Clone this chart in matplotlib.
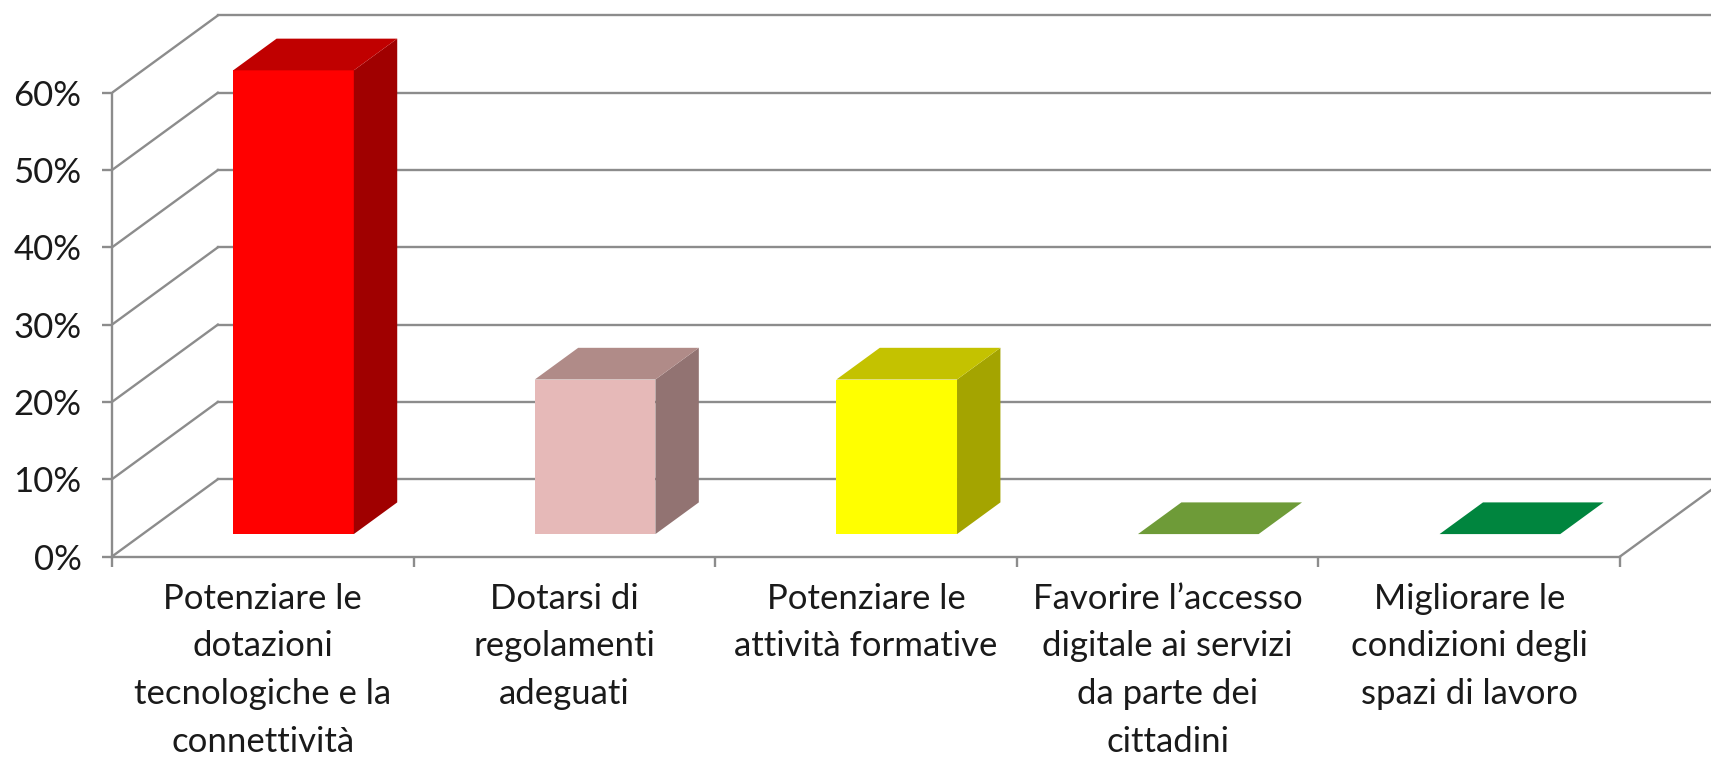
import numpy as np
import matplotlib.pyplot as plt
from matplotlib.patches import Polygon

categories = ["Potenziare le\ndotazioni\ntecnologiche e la\nconnettività",
              "Dotarsi di\nregolamenti\nadeguati",
              "Potenziare le\nattività formative",
              "Favorire l’accesso\ndigitale ai servizi\nda parte dei\ncittadini",
              "Migliorare le\ncondizioni degli\nspazi di lavoro"]
values = [60, 20, 20, 0, 0]
yticks = [0, 10, 20, 30, 40, 50, 60]

front_col = ["#ff0000", "#e6b9b8", "#ffff00", "#77a03c", "#008a40"]
top_col = ["#c00000", "#b08b88", "#c4c200", "#6e9b38", "#00853e"]
side_col = ["#a00000", "#927372", "#a4a400", "#5a7d2e", "#006a32"]

plt.rcParams['font.family'] = ['Lato', 'DejaVu Sans']
grid_c = "#8c8c8c"
txt_c = "#1a1a1a"

fig = plt.figure(figsize=(17.11, 7.58), dpi=100)
# axes: left edge at front y-axis, bottom at 0%
ax = fig.add_axes([112 / 1711, (758 - 556.5) / 758, (1711 - 112) / 1711, 556.5 / 758])
ax.set_xlim(0, (1711 - 112) / 301.6)
ax.set_ylim(0, 72)

# depth of the 3d box: x offset in category units, y offset in %
dx, dy = 0.351, 10.0
f0, f1 = 0.29, 0.70  # bar front/back depth fraction
bw = 0.4

# walls
for v in yticks:
    ax.plot([0, dx], [v, v + dy], color=grid_c, lw=1.7, zorder=1)
    ax.plot([dx, 6], [v + dy, v + dy], color=grid_c, lw=1.7, zorder=1)
n = len(categories)
ax.plot([n, n + dx], [0, dy], color=grid_c, lw=1.7, zorder=1)

# bars
x = np.arange(n) + 0.5
xf = x + f0 * dx
yb = f0 * dy
ddx = (f1 - f0) * dx
ddy = (f1 - f0) * dy
for i in range(n):
    v = values[i]
    l, r = xf[i] - bw / 2, xf[i] + bw / 2
    if v > 0:
        ax.bar(xf[i], v, bottom=yb, width=bw, color=front_col[i], zorder=3)
        ax.add_patch(Polygon([[r, yb], [r + ddx, yb + ddy], [r + ddx, yb + v + ddy], [r, yb + v]],
                             closed=True, facecolor=side_col[i], edgecolor='none', zorder=3))
    ax.add_patch(Polygon([[l, yb + v], [r, yb + v], [r + ddx, yb + v + ddy], [l + ddx, yb + v + ddy]],
                         closed=True, facecolor=top_col[i], edgecolor='none', zorder=3))

# axes styling
for s in ['top', 'right']:
    ax.spines[s].set_visible(False)
for s in ['left', 'bottom']:
    ax.spines[s].set_color(grid_c)
    ax.spines[s].set_linewidth(1.7)
ax.spines['left'].set_bounds(0, 60)
ax.spines['bottom'].set_bounds(0, n)
ax.set_yticks(yticks)
ax.set_yticklabels(["{}%".format(v) for v in yticks])
ax.set_xticks(np.arange(n + 1))
ax.set_xticklabels([])
ax.set_xticks(x, minor=True)
ax.set_xticklabels(categories, minor=True, linespacing=1.6)
ax.tick_params(axis='y', length=7, width=1.7, color=grid_c, pad=15, labelsize=25, labelcolor=txt_c)
ax.tick_params(axis='x', which='major', length=7, width=1.7, color=grid_c)
ax.tick_params(axis='x', which='minor', length=0, pad=19, labelsize=25, labelcolor=txt_c)
ax.patch.set_alpha(0)

fig.savefig("out.png", dpi=100)
